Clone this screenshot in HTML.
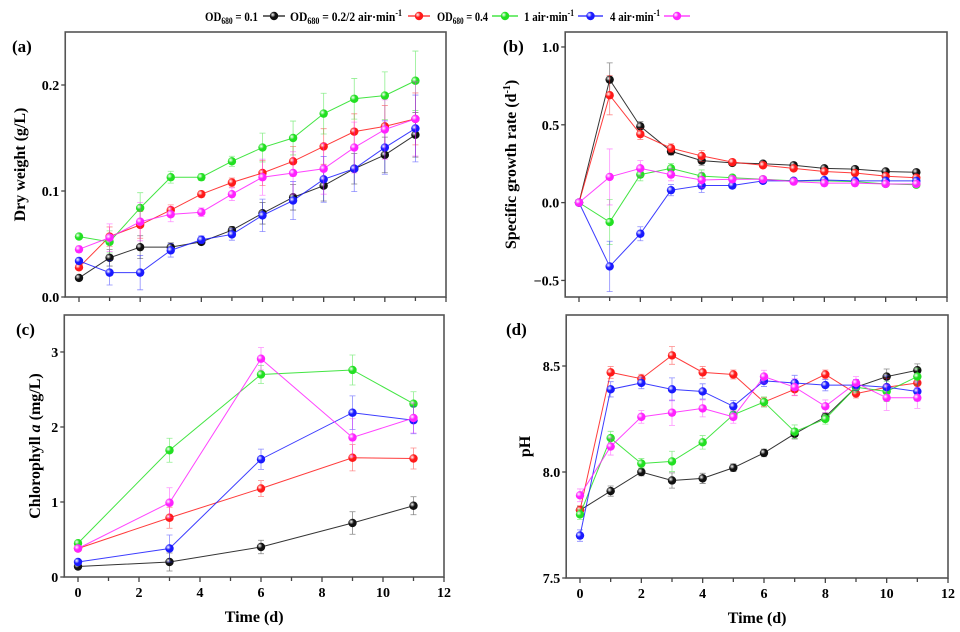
<!DOCTYPE html>
<html><head><meta charset="utf-8"><style>
html,body{margin:0;padding:0;background:#fff;}
#wrap{position:relative;width:960px;height:632px;overflow:hidden;font-family:"Liberation Serif",serif;font-weight:bold;}
</style></head><body>
<div id="wrap">
<svg id="chart" width="960" height="632" style="position:absolute;left:0;top:0;font-family:'Liberation Serif',serif;font-weight:bold">
<g font-size="13">
<text x="205" y="21" textLength="53" lengthAdjust="spacingAndGlyphs">OD<tspan font-size="9" dy="3">680</tspan><tspan dy="-3"> = 0.1</tspan></text>
<text x="290" y="21" textLength="112" lengthAdjust="spacingAndGlyphs">OD<tspan font-size="9" dy="3">680</tspan><tspan dy="-3"> = 0.2/2 air·min</tspan><tspan font-size="9" dy="-5">-1</tspan></text>
<text x="437" y="21" textLength="51" lengthAdjust="spacingAndGlyphs">OD<tspan font-size="9" dy="3">680</tspan><tspan dy="-3"> = 0.4</tspan></text>
<text x="524" y="21" textLength="50" lengthAdjust="spacingAndGlyphs">1 air·min<tspan font-size="9" dy="-5">-1</tspan></text>
<text x="610" y="21" textLength="50" lengthAdjust="spacingAndGlyphs">4 air·min<tspan font-size="9" dy="-5">-1</tspan></text>
</g>
</svg>
</div>
<script>
const colors = ['#111111','#ff1a1a','#22e022','#1a1aff','#ff22ff'];
const seriesNames = ['OD0.1','OD0.2/2air','OD0.4','1air','4air'];
const days = [0,1,2,3,4,5,6,7,8,9,10,11];
const chlDays = [0,3,6,9,11];
const dwBlack = [0.018,0.037,0.047,0.047,0.052,0.063,0.079,0.094,0.105,0.121,0.134,0.153];
const dwRed = [0.028,0.057,0.068,0.082,0.097,0.108,0.117,0.128,0.142,0.156,0.161,0.168];
const dwGreen = [0.057,0.052,0.084,0.113,0.113,0.128,0.141,0.150,0.173,0.187,0.190,0.204];
const dwBlue = [0.034,0.023,0.023,0.044,0.054,0.059,0.077,0.091,0.111,0.121,0.141,0.159];
const dwMagenta = [0.045,0.056,0.071,0.078,0.080,0.097,0.113,0.117,0.121,0.141,0.158,0.168];
const dwErr = [0.003,0.013,0.018,0.007,0.004,0.006,0.017,0.02,0.024,0.024,0.028,0.035];
const sgBlack = [0,0.79,0.49,0.33,0.27,0.255,0.25,0.24,0.22,0.215,0.20,0.195];
const sgRed = [0,0.69,0.44,0.35,0.30,0.26,0.24,0.22,0.20,0.19,0.17,0.16];
const sgGreen = [0,-0.125,0.18,0.22,0.17,0.16,0.15,0.14,0.14,0.135,0.12,0.115];
const sgBlue = [0,-0.41,-0.20,0.08,0.11,0.11,0.14,0.14,0.145,0.14,0.14,0.14];
const sgMagenta = [0,0.165,0.22,0.18,0.145,0.15,0.15,0.135,0.125,0.125,0.12,0.12];
const sgErr = [0,0.18,0.05,0.04,0.05,0.02,0.015,0.01,0.01,0.01,0.01,0.01];
const chBlack = [0.14,0.2,0.4,0.72,0.95];
const chRed = [0.38,0.79,1.18,1.59,1.58];
const chGreen = [0.45,1.69,2.70,2.76,2.31];
const chBlue = [0.2,0.38,1.57,2.19,2.09];
const chMagenta = [0.38,0.99,2.91,1.86,2.12];
const chErr = [0.03,0.2,0.15,0.25,0.2];
const phBlack = [7.82,7.91,8.00,7.96,7.97,8.02,8.09,8.18,8.26,8.40,8.45,8.48];
const phRed = [7.82,8.47,8.44,8.55,8.47,8.46,8.33,8.39,8.46,8.37,8.40,8.42];
const phGreen = [7.80,8.16,8.04,8.05,8.14,8.27,8.33,8.19,8.25,8.40,8.38,8.45];
const phBlue = [7.70,8.39,8.42,8.39,8.38,8.31,8.43,8.42,8.41,8.41,8.40,8.38];
const phMagenta = [7.89,8.12,8.26,8.28,8.30,8.26,8.45,8.40,8.31,8.42,8.35,8.35];
const phErr = [0.03,0.04,0.03,0.06,0.04,0.03,0.03,0.04,0.03,0.03,0.06,0.05];
const aTicks = ['0.0','0.1','0.2'];
const bTicks = ['-0.5','0.0','0.5','1.0'];
const cTicks = ['0','1','2','3'];
const dTicks = ['7.5','8.0','8.5'];
const xTickLabels = ['0','2','4','6','8','10','12'];

const NS='http://www.w3.org/2000/svg';
const svg=document.getElementById('chart');
function mk(tag,attrs,parent){const e=document.createElementNS(NS,tag);for(const k in attrs)e.setAttribute(k,attrs[k]);(parent||svg).appendChild(e);return e;}
const defs=mk('defs',{});
colors.forEach((c,i)=>{const g=mk('radialGradient',{id:'g'+i,cx:'0.35',cy:'0.35',r:'0.7'},defs);
mk('stop',{offset:'0','stop-color':'#ffffff'},g);mk('stop',{offset:'0.45','stop-color':c},g);mk('stop',{offset:'1','stop-color':c},g);});

function panel(p){
  const g=mk('g',{});
  
  
  const sx=v=>p.x0+(v-p.xmin)/(p.xmax-p.xmin)*(p.x1-p.x0);
  const sy=v=>p.y1-(v-p.ymin)/(p.ymax-p.ymin)*(p.y1-p.y0);
  const ax0=sx(-0.45);
  const frame=mk('rect',{x:ax0,y:p.y0,width:p.x1-ax0,height:p.y1-p.y0,fill:'none',stroke:'#555',"stroke-width":1.6},g);
  
  
  for(let d=0;d<=12;d++){mk('line',{x1:sx(d),x2:sx(d),y1:p.y1,y2:p.y1+(d%2?4:5),stroke:'#444',"stroke-width":1.3},g);}
  if(p.xlabels){xTickLabels.forEach(t=>{const e=mk('text',{x:sx(+t),y:p.y1+20,'text-anchor':'middle','font-size':14},g);e.textContent=t;});
    const xt=mk('text',{x:(ax0+p.x1)/2,y:p.y1+45,'text-anchor':'middle','font-size':16},g);xt.textContent='Time (d)';}
  p.ticks.forEach(t=>{const y=sy(+t);mk('line',{x1:ax0-4,x2:ax0,y1:y,y2:y,stroke:'#444',"stroke-width":1.3},g);
    const e=mk('text',{x:ax0-6,y:y+5,'text-anchor':'end','font-size':14},g);e.textContent=t.replace('-','\u2212');});
  const yt=mk('text',{transform:`translate(${p.tx},${(p.y0+p.y1)/2}) rotate(-90)`,'text-anchor':'middle','font-size':16},g);
  yt.innerHTML=p.title;
  const pl=mk('text',{x:p.lx,y:p.y0+20,'font-size':17},g);pl.textContent='('+p.id+')';
  p.series.forEach((s,i)=>{
    const sg=mk('g',{},g);
    
    
    mk('polyline',{points:s.map((v,j)=>sx(p.xs[j])+','+sy(v)).join(' '),fill:'none',stroke:colors[i],"stroke-width":1,opacity:0.85},sg);
    s.forEach((v,j)=>{const e=p.err[j]*(0.6+0.1*i);const x=sx(p.xs[j]);
      if(e>0){mk('path',{d:`M${x},${sy(v-e)}V${sy(v+e)}M${x-3},${sy(v-e)}H${x+3}M${x-3},${sy(v+e)}H${x+3}`,stroke:colors[i],"stroke-width":0.8,opacity:0.5,fill:'none'},sg);}
      const c=mk('circle',{cx:x,cy:sy(v),r:4.2,fill:`url(#g${i})`},sg);
      
      
    });
  });
}
panel({id:'a',x0:79,x1:446,xmin:0,xmax:12,y0:32,y1:297,ymin:0,ymax:0.25,ticks:aTicks,xs:days,err:dwErr,
  series:[dwBlack,dwRed,dwGreen,dwBlue,dwMagenta],title:'Dry weight (g/L)',tx:25,lx:12,xlabels:false});
panel({id:'b',x0:579,x1:947,xmin:0,xmax:12,y0:32,y1:297,ymin:-0.6064,ymax:1.0962,ticks:bTicks,xs:days,err:sgErr,
  series:[sgBlack,sgRed,sgGreen,sgBlue,sgMagenta],title:'Specific growth rate (d<tspan font-size="10" dy="-6">-1</tspan><tspan dy="6">)</tspan>',tx:516,lx:503,xlabels:false});
panel({id:'c',x0:78,x1:444,xmin:0,xmax:12,y0:315,y1:577,ymin:0,ymax:3.493,ticks:cTicks,xs:chlDays,err:chErr,
  series:[chBlack,chRed,chGreen,chBlue,chMagenta],title:'Chlorophyll <tspan font-style="italic">a</tspan> (mg/L)',tx:40,lx:16,xlabels:true});
panel({id:'d',x0:580,x1:948,xmin:0,xmax:12,y0:315,y1:578,ymin:7.5,ymax:8.7406,ticks:dTicks,xs:days,err:phErr,
  series:[phBlack,phRed,phGreen,phBlue,phMagenta],title:'pH',tx:530,lx:506,xlabels:true});

const legX=[[263,285],[408,430],[492,518],[578,603],[664,690]];
legX.forEach((r,i)=>{const g=mk('g',{});
  
  
  mk('line',{x1:r[0],x2:r[1],y1:16,y2:16,stroke:colors[i],"stroke-width":1.2},g);
  mk('circle',{cx:(r[0]+r[1])/2,cy:16,r:4.2,fill:`url(#g${i})`},g);});
</script>
</body></html>
